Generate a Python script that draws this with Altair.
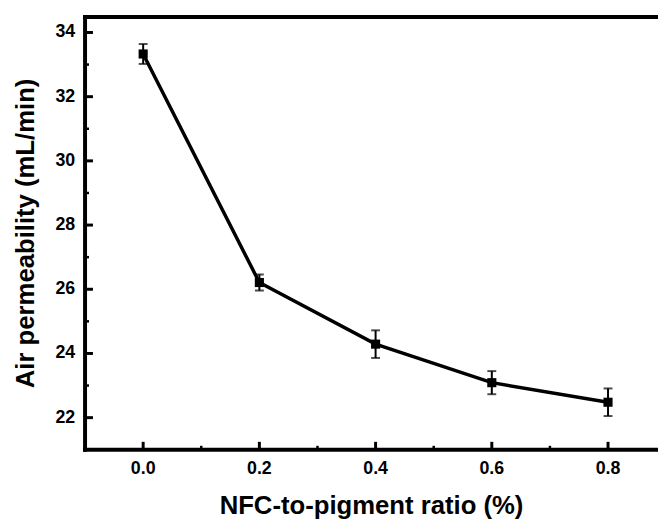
import altair as alt
import pandas as pd

# Data
ratio = [0.0, 0.2, 0.4, 0.6, 0.8]
permeability = [33.33, 26.21, 24.29, 23.09, 22.48]
error = [0.31, 0.25, 0.43, 0.36, 0.43]

y_major = [22, 24, 26, 28, 30, 32, 34]
y_minor = [21, 23, 25, 27, 29, 31, 33]
x_major = [0.0, 0.2, 0.4, 0.6, 0.8]
x_minor = [0.1, 0.3, 0.5, 0.7]

x_title = "NFC-to-pigment ratio (%)"
y_title = "Air permeability (mL/min)"

W, H = 580, 438
FONT = "Liberation Sans"

df = pd.DataFrame({"ratio": ratio, "perm": permeability, "err": error})
df["lo"] = df["perm"] - df["err"]
df["hi"] = df["perm"] + df["err"]

xscale = alt.Scale(domain=[-0.1, 0.886], nice=False, zero=False)
yscale = alt.Scale(domain=[21.0, 34.48], nice=False, zero=False)

base = alt.Chart(df)

line = base.mark_line(color="black", strokeWidth=3.5).encode(
    x=alt.X("ratio:Q", scale=xscale, axis=None),
    y=alt.Y("perm:Q", scale=yscale, axis=None),
)
bars = base.mark_rule(color="black", strokeWidth=2).encode(
    x=alt.X("ratio:Q", axis=None), y=alt.Y("lo:Q", axis=None), y2="hi:Q"
)
cap_hi = base.mark_tick(color="black", orient="horizontal", size=9, thickness=2).encode(
    x=alt.X("ratio:Q", axis=None), y=alt.Y("hi:Q", axis=None)
)
cap_lo = base.mark_tick(color="black", orient="horizontal", size=9, thickness=2).encode(
    x=alt.X("ratio:Q", axis=None), y=alt.Y("lo:Q", axis=None)
)
points = base.mark_square(color="black", size=85, opacity=1, filled=True).encode(
    x=alt.X("ratio:Q", axis=None), y=alt.Y("perm:Q", axis=None)
)

ydf = pd.DataFrame({"v": y_major})
xdf = pd.DataFrame({"v": x_major})

ymaj = alt.Chart(ydf).mark_rule(color="black", strokeWidth=3).encode(
    y=alt.Y("v:Q", axis=None), x=alt.value(0), x2=alt.value(8)
)
ymin = alt.Chart(pd.DataFrame({"v": y_minor})).mark_rule(color="black", strokeWidth=2.5).encode(
    y=alt.Y("v:Q", axis=None), x=alt.value(0), x2=alt.value(4)
)
xmaj = alt.Chart(xdf).mark_rule(color="black", strokeWidth=3).encode(
    x=alt.X("v:Q", axis=None), y=alt.value(H), y2=alt.value(H - 8)
)
xmin = alt.Chart(pd.DataFrame({"v": x_minor})).mark_rule(color="black", strokeWidth=2.5).encode(
    x=alt.X("v:Q", axis=None), y=alt.value(H), y2=alt.value(H - 4)
)

frame = pd.DataFrame({"v": [0]})
top = alt.Chart(frame).mark_rule(color="black", strokeWidth=4).encode(
    y=alt.value(0), x=alt.value(-2), x2=alt.value(W)
)
left = alt.Chart(frame).mark_rule(color="black", strokeWidth=4).encode(
    x=alt.value(0), y=alt.value(-2), y2=alt.value(H + 2)
)
bottom = alt.Chart(frame).mark_rule(color="black", strokeWidth=4).encode(
    y=alt.value(H), x=alt.value(-2), x2=alt.value(W)
)

ylabels = alt.Chart(ydf).mark_text(
    font=FONT, fontWeight="bold", fontSize=18, color="black", align="right", baseline="middle"
).encode(
    y=alt.Y("v:Q", axis=None), x=alt.value(-10), text=alt.Text("v:Q", format="d")
)
xlabels = alt.Chart(xdf).mark_text(
    font=FONT, fontWeight="bold", fontSize=18, color="black", align="center", baseline="alphabetic"
).encode(
    x=alt.X("v:Q", axis=None), y=alt.value(463), text=alt.Text("v:Q", format=".1f")
)
xt = alt.Chart(pd.DataFrame({"t": [x_title]})).mark_text(
    font=FONT, fontWeight="bold", fontSize=26, color="black", align="center", baseline="alphabetic"
).encode(x=alt.value(W / 2), y=alt.value(503), text="t:N")
yt = alt.Chart(pd.DataFrame({"t": [y_title]})).mark_text(
    font=FONT, fontWeight="bold", fontSize=26, color="black", align="center",
    baseline="alphabetic", angle=270
).encode(x=alt.value(-52), y=alt.value(H / 2), text="t:N")

chart = alt.layer(
    line, bars, cap_hi, cap_lo, points, ymaj, ymin, xmaj, xmin,
    top, left, bottom, ylabels, xlabels, xt, yt
).properties(
    width=W, height=H,
    background="white",
    autosize=alt.AutoSizeParams(type="none"),
    padding={"left": 78, "top": 6, "right": 0, "bottom": 73},
).configure_view(stroke=None)

chart.save("out.html", embed_options={"renderer": "svg", "actions": False})
